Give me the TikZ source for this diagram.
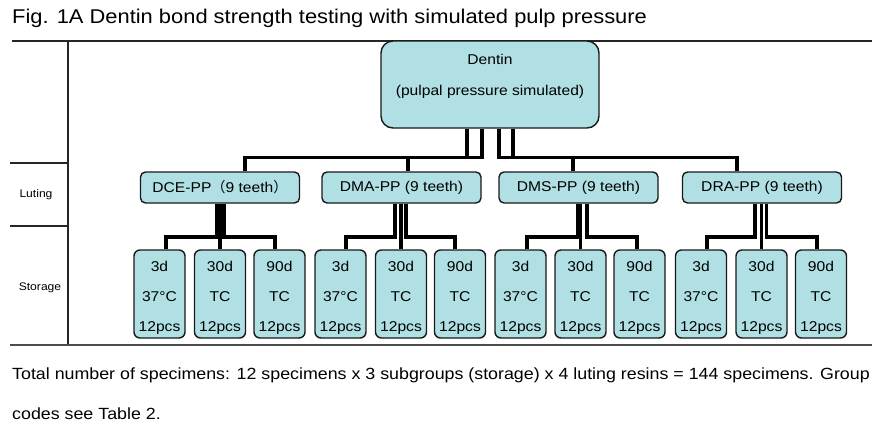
\documentclass[tikz,border=0pt]{standalone}
\usepackage{fontspec}
\setmainfont{Liberation Sans}[FakeStretch=1.1]
\newfontfamily\cjk{Noto Sans CJK SC}
\usetikzlibrary{calc}
\definecolor{boxfill}{RGB}{176,224,228}
\begin{document}
\begin{tikzpicture}[x=1pt,y=-1pt,
  rule/.style={line width=1.2pt, black!85},
  conn/.style={line width=3.4pt, black, line join=miter},
  boxbase/.style={draw=black!90, line width=1.4pt, fill=boxfill, inner sep=0pt},
  dentinbox/.style={boxbase, rounded corners=12pt, minimum width=218pt, minimum height=87pt},
  lutbox/.style={boxbase, rounded corners=5pt, minimum width=159pt, minimum height=31pt, font=\fontsize{14.2}{16}\selectfont},
  storbox/.style={boxbase, rounded corners=6pt, minimum width=51pt, minimum height=88pt, align=center, font=\fontsize{14.2}{30}\selectfont},
  rowlabel/.style={inner sep=0pt, font=\fontsize{11}{13}\selectfont},
  plaintext/.style={inner sep=0pt, anchor=base west},
]
\useasboundingbox (0,0) rectangle (872,442);
\fill[white] (0,0) rectangle (872,442);

% title
\node[plaintext, font=\fontsize{19.9}{22}\selectfont] (title) at (12,23) {Fig. 1A Dentin bond strength testing with simulated pulp pressure};

% table rules
\draw[rule] (12,41) -- (872,41);
\draw[rule] (68,41) -- (68,345);
\draw[rule] (10,163) -- (68,163);
\draw[rule] (10,226) -- (68,226);
\draw[line width=2.4pt, black!70] (10,345) -- (872,345);

% row labels
\node[rowlabel] (luting) at (36,195) {Luting};
\node[rowlabel] (storage) at (40,288) {Storage};

% dentin
\node[dentinbox] (dentin) at (490,84.5) {};
\node[align=center, inner sep=0pt, font=\fontsize{14.2}{31}\selectfont] (dentintext) at (490,76) {Dentin\\(pulpal pressure simulated)};

% luting boxes
\node[lutbox] (dce) at (220,187.5) {DCE-PP{\cjk（}9 teeth{\cjk）}};
\node[lutbox] (dma) at (401.5,187.5) {DMA-PP (9 teeth)};
\node[lutbox] (dms) at (578.5,187.5) {DMS-PP (9 teeth)};
\node[lutbox] (dra) at (762,187.5) {DRA-PP (9 teeth)};

% storage boxes
\newcommand{\topstrut}{\rule{0pt}{18pt}}
\node[storbox] (s1) at (159.5,294) {\topstrut 3d\\37°C\\12pcs};
\node[storbox] (s2) at (220,294) {\topstrut 30d\\TC\\12pcs};
\node[storbox] (s3) at (279.5,294) {\topstrut 90d\\TC\\12pcs};
\node[storbox] (s4) at (340.5,294) {\topstrut 3d\\37°C\\12pcs};
\node[storbox] (s5) at (401,294) {\topstrut 30d\\TC\\12pcs};
\node[storbox] (s6) at (460,294) {\topstrut 90d\\TC\\12pcs};
\node[storbox] (s7) at (520.5,294) {\topstrut 3d\\37°C\\12pcs};
\node[storbox] (s8) at (580.5,294) {\topstrut 30d\\TC\\12pcs};
\node[storbox] (s9) at (639.5,294) {\topstrut 90d\\TC\\12pcs};
\node[storbox] (s10) at (701,294) {\topstrut 3d\\37°C\\12pcs};
\node[storbox] (s11) at (761.5,294) {\topstrut 30d\\TC\\12pcs};
\node[storbox] (s12) at (821,294) {\topstrut 90d\\TC\\12pcs};

% dentin -> luting
\draw[conn] ($(dentin.south)+(-23,0)$) -- ++(0,28.5) -| ($(dce.north)+(25,0)$);
\draw[conn] ($(dentin.south)+(-8,0)$) -- ++(0,28.5) -| ($(dma.north)+(6.5,0)$);
\draw[conn] ($(dentin.south)+(9,0)$) -- ++(0,28.5) -| ($(dms.north)+(-5.5,0)$);
\draw[conn] ($(dentin.south)+(23,0)$) -- ++(0,28.5) -| ($(dra.north)+(-25,0)$);

% luting -> storage
\draw[conn] ($(dce.south)+(-3.5,0)$) -- ++(0,33.4) -| ($(s1.north)+(6.5,0)$);
\draw[conn] (s2.north |- dce.south) -- (s2.north);
\draw[conn] ($(dce.south)+(4,0)$) -- ++(0,33.4) -| ($(s3.north)+(-4.5,0)$);

\draw[conn] ($(dma.south)+(-6.5,0)$) -- ++(0,33.4) -| ($(s4.north)+(5.5,0)$);
\draw[conn] (s5.north |- dma.south) -- (s5.north);
\draw[conn] ($(dma.south)+(4.5,0)$) -- ++(0,33.4) -| ($(s6.north)+(-5,0)$);

\draw[conn] ($(dms.south)+(-1,0)$) -- ++(0,33.4) -| ($(s7.north)+(6.5,0)$);
\draw[conn] (s8.north |- dms.south) -- (s8.north);
\draw[conn] ($(dms.south)+(8.5,0)$) -- ++(0,33.4) -| ($(s9.north)+(-2.5,0)$);

\draw[conn] ($(dra.south)+(-7,0)$) -- ++(0,33.4) -| ($(s10.north)+(6,0)$);
\draw[conn] (s11.north |- dra.south) -- (s11.north);
\draw[conn] ($(dra.south)+(4.5,0)$) -- ++(0,33.4) -| ($(s12.north)+(-4,0)$);

% footer
\node[plaintext, font=\fontsize{16.2}{18}\selectfont] (foot1) at (12,379) {Total number of specimens: 12 specimens x 3 subgroups (storage) x 4 luting resins = 144 specimens. Group};
\node[plaintext, font=\fontsize{16.2}{18}\selectfont] (foot2) at (12,419) {codes see Table 2.};
\end{tikzpicture}
\end{document}
